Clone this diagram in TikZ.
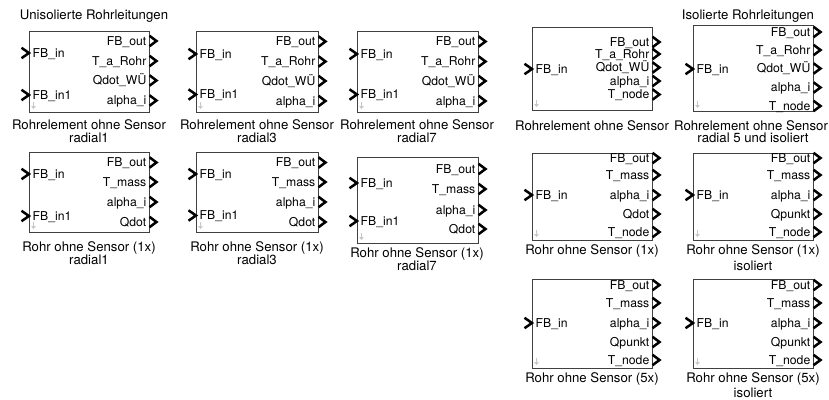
\documentclass[tikz,border=0pt]{standalone}
\usepackage{fontspec}
\setmainfont{TeX Gyre Heros}
\usetikzlibrary{arrows.meta}

% port chevron, block frame, texts
\tikzset{
  chev/.style={line width=2.5pt, black, line join=miter, line cap=butt},
  blockbox/.style={draw=black!75, line width=0.8pt, fill=white, inner sep=0pt, anchor=north west},
  plabel/.style={inner sep=0pt, font=\fontsize{12.2}{14}\selectfont},
  blabel/.style={inner sep=0pt, anchor=base, font=\fontsize{13.2}{15}\selectfont},
  linkicon/.style={draw=black!22, line width=1.1pt, -{Triangle[length=3pt,width=4.5pt]}}
}

% input port: tip x, y, label, name
\newcommand\inport[4]{%
  \draw[chev] (#1-7.5,#2-5.2) -- (#1,#2) -- (#1-7.5,#2+5.2);
  \node[plabel, anchor=base west] (#4) at (#1+3.5,#2+4.3) {#3};
}
% output port: box edge x, y, label, name
\newcommand\outport[4]{%
  \draw[chev] (#1+0.5,#2-5.2) -- (#1+7.5,#2) -- (#1+0.5,#2+5.2);
  \node[plabel, anchor=base east] (#4) at (#1-2.5,#2+4.3) {#3};
}
% block frame: name, left, top, right, bottom
\newcommand\simblock[5]{%
  \node[blockbox, minimum width=#4-#2, minimum height=#5-#3] (#1) at (#2,#3) {};
  \draw[linkicon] (#2+4.5,#5-10) -- (#2+4.5,#5-3);
}

\begin{document}
\begin{tikzpicture}[x=1pt,y=-1pt]
\useasboundingbox (0,0) rectangle (829,399);

% group titles
\node[blabel] (tleft) at (94,19.7) {Unisolierte Rohrleitungen};
\node[blabel] (tright) at (748,19.7) {Isolierte Rohrleitungen};

% ---------- row 1, uninsulated ----------
\simblock{b1}{29}{31}{149}{112}
\inport{29}{53}{FB\_in}{b1i1}
\inport{29}{95}{FB\_in1}{b1i2}
\outport{149}{41}{FB\_out}{b1o1}
\outport{149}{61}{T\_a\_Rohr}{b1o2}
\outport{149}{80.5}{Qdot\_WÜ}{b1o3}
\outport{149}{100.5}{alpha\_i}{b1o4}
\node[blabel] (b1l1) at (89,129.5) {Rohrelement ohne Sensor};
\node[blabel] (b1l2) at (89,142.5) {radial1};

\simblock{b2}{196}{31}{318}{112}
\inport{196}{54}{FB\_in}{b2i1}
\inport{196}{94.5}{FB\_in1}{b2i2}
\outport{318}{41.5}{FB\_out}{b2o1}
\outport{318}{61.5}{T\_a\_Rohr}{b2o2}
\outport{318}{81}{Qdot\_WÜ}{b2o3}
\outport{318}{101}{alpha\_i}{b2o4}
\node[blabel] (b2l1) at (257,129.5) {Rohrelement ohne Sensor};
\node[blabel] (b2l2) at (257,142.5) {radial3};

\simblock{b3}{357}{31}{478}{112}
\inport{357}{54}{FB\_in}{b3i1}
\inport{357}{94.5}{FB\_in1}{b3i2}
\outport{478}{41.5}{FB\_out}{b3o1}
\outport{478}{61.5}{T\_a\_Rohr}{b3o2}
\outport{478}{81}{Qdot\_WÜ}{b3o3}
\outport{478}{101}{alpha\_i}{b3o4}
\node[blabel] (b3l1) at (417,129.5) {Rohrelement ohne Sensor};
\node[blabel] (b3l2) at (417,142.5) {radial7};

% ---------- row 1, right group ----------
\simblock{b4}{532}{27}{652}{110}
\inport{532}{69}{FB\_in}{b4i1}
\outport{652}{42}{FB\_out}{b4o1}
\outport{652}{54}{T\_a\_Rohr}{b4o2}
\outport{652}{67.5}{Qdot\_WÜ}{b4o3}
\outport{652}{81}{alpha\_i}{b4o4}
\outport{652}{94.5}{T\_node}{b4o5}
\node[blabel] (b4l1) at (592,130) {Rohrelement ohne Sensor};

\simblock{b5}{693}{25}{813}{111}
\inport{693}{69}{FB\_in}{b5i1}
\outport{813}{32}{FB\_out}{b5o1}
\outport{813}{50}{T\_a\_Rohr}{b5o2}
\outport{813}{68.5}{Qdot\_WÜ}{b5o3}
\outport{813}{87.5}{alpha\_i}{b5o4}
\outport{813}{106}{T\_node}{b5o5}
\node[blabel] (b5l1) at (751,130) {Rohrelement ohne Sensor};
\node[blabel] (b5l2) at (753,142.5) {radial 5 und isoliert};

% ---------- row 2, uninsulated ----------
\simblock{b6}{29}{152}{149}{232}
\inport{29}{174}{FB\_in}{b6i1}
\inport{29}{216}{FB\_in1}{b6i2}
\outport{149}{162.5}{FB\_out}{b6o1}
\outport{149}{182}{T\_mass}{b6o2}
\outport{149}{202}{alpha\_i}{b6o3}
\outport{149}{222}{Qdot}{b6o4}
\node[blabel] (b6l1) at (89,251.5) {Rohr ohne Sensor (1x)};
\node[blabel] (b6l2) at (89,264.5) {radial1};

\simblock{b7}{196}{152}{318}{232}
\inport{196}{174}{FB\_in}{b7i1}
\inport{196}{215.5}{FB\_in1}{b7i2}
\outport{318}{162.5}{FB\_out}{b7o1}
\outport{318}{182}{T\_mass}{b7o2}
\outport{318}{202}{alpha\_i}{b7o3}
\outport{318}{222}{Qdot}{b7o4}
\node[blabel] (b7l1) at (257,251.5) {Rohr ohne Sensor (1x)};
\node[blabel] (b7l2) at (257,264.5) {radial3};

\simblock{b8}{357}{157}{478}{243}
\inport{357}{183}{FB\_in}{b8i1}
\inport{357}{221}{FB\_in1}{b8i2}
\outport{478}{169}{FB\_out}{b8o1}
\outport{478}{189}{T\_mass}{b8o2}
\outport{478}{210}{alpha\_i}{b8o3}
\outport{478}{229}{Qdot}{b8o4}
\node[blabel] (b8l1) at (417,257.5) {Rohr ohne Sensor (1x)};
\node[blabel] (b8l2) at (417,270) {radial7};

% ---------- row 2, right group ----------
\simblock{b9}{532}{153}{652}{240}
\inport{532}{195}{FB\_in}{b9i1}
\outport{652}{158}{FB\_out}{b9o1}
\outport{652}{175}{T\_mass}{b9o2}
\outport{652}{195}{alpha\_i}{b9o3}
\outport{652}{214}{Qdot}{b9o4}
\outport{652}{232}{T\_node}{b9o5}
\node[blabel] (b9l1) at (592,254.5) {Rohr ohne Sensor (1x)};

\simblock{b10}{693}{153}{813}{240}
\inport{693}{195}{FB\_in}{b10i1}
\outport{813}{158}{FB\_out}{b10o1}
\outport{813}{175}{T\_mass}{b10o2}
\outport{813}{195}{alpha\_i}{b10o3}
\outport{813}{214}{Qpunkt}{b10o4}
\outport{813}{232}{T\_node}{b10o5}
\node[blabel] (b10l1) at (753,254.5) {Rohr ohne Sensor (1x)};
\node[blabel] (b10l2) at (753,270) {isoliert};

% ---------- row 3, right group ----------
\simblock{b11}{532}{279}{652}{368}
\inport{532}{323}{FB\_in}{b11i1}
\outport{652}{285}{FB\_out}{b11o1}
\outport{652}{303}{T\_mass}{b11o2}
\outport{652}{323}{alpha\_i}{b11o3}
\outport{652}{342}{Qpunkt}{b11o4}
\outport{652}{360}{T\_node}{b11o5}
\node[blabel] (b11l1) at (592,382.5) {Rohr ohne Sensor (5x)};

\simblock{b12}{693}{279}{813}{368}
\inport{693}{323}{FB\_in}{b12i1}
\outport{813}{285}{FB\_out}{b12o1}
\outport{813}{303}{T\_mass}{b12o2}
\outport{813}{323}{alpha\_i}{b12o3}
\outport{813}{342}{Qpunkt}{b12o4}
\outport{813}{360}{T\_node}{b12o5}
\node[blabel] (b12l1) at (753,382.5) {Rohr ohne Sensor (5x)};
\node[blabel] (b12l2) at (753,397) {isoliert};
\end{tikzpicture}
\end{document}
